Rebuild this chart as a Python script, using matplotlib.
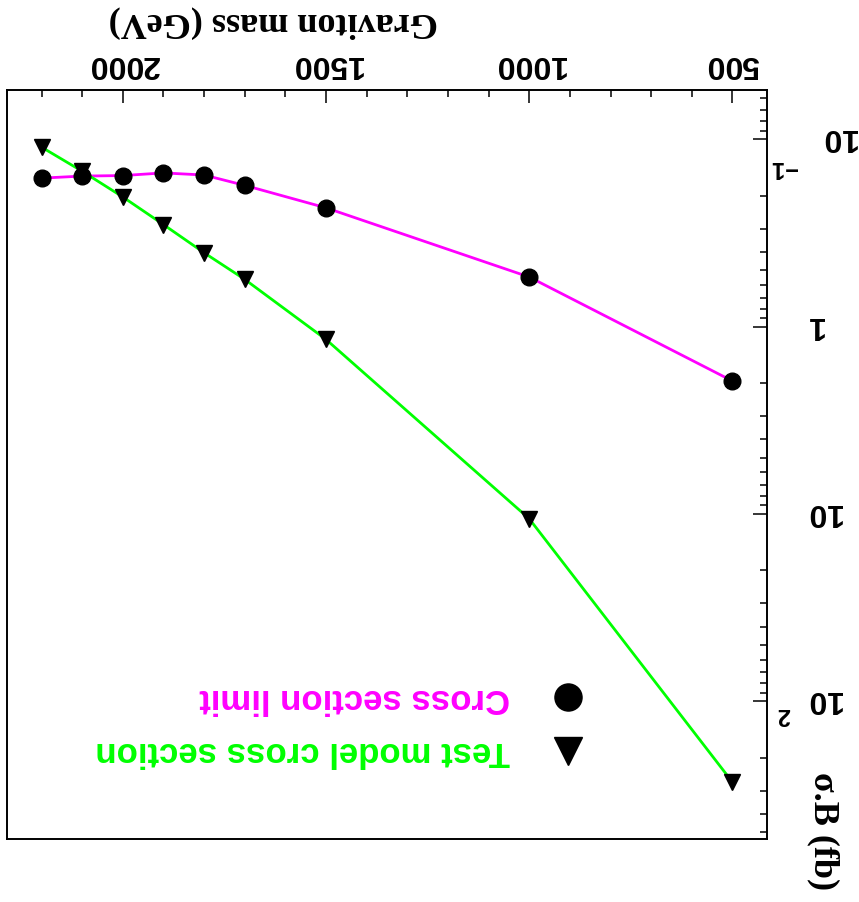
import numpy as np

import matplotlib
matplotlib.use("Agg")
import matplotlib.pyplot as plt
from matplotlib.ticker import FixedLocator, MultipleLocator, LogLocator, NullFormatter


# graviton search: limit vs test model, figure is stored upside down
MASS_GEV = [500, 1000, 1500, 1700, 1800, 1900, 2000, 2100, 2200]
XSEC_LIMIT_FB = [1.95, 0.543, 0.232, 0.176, 0.155, 0.151, 0.156, 0.157, 0.161]
XSEC_MODEL_FB = [270.0, 10.6, 1.17, 0.559, 0.403, 0.285, 0.203, 0.148, 0.110]

X_TICKS = [500, 1000, 1500, 2000]
X_TICK_LABELS = ["500", "1000", "1500", "2000"]
Y_TICKS = [0.1, 1, 10, 100]
Y_TICK_BASES = ["10", "1", "10", "10"]
Y_TICK_EXPONENTS = ["\u22121", "", "", "2"]

LEGEND_LABELS = ["Cross section limit", "Test model cross section"]

SANS = ["Liberation Sans", "DejaVu Sans"]
SERIF = ["Liberation Serif", "DejaVu Serif"]
MAGENTA = "#ff00ff"
GREEN = "#00ff00"
PX = 72.0 / 100.0  # points per pixel at dpi 100


fig = plt.figure(figsize=(8.59, 9.03), dpi=100)
ax = fig.add_axes([7 / 859, 63 / 903, 760 / 859, 749 / 903])

# lines first, markers on top
ax.plot(MASS_GEV, XSEC_LIMIT_FB, color=MAGENTA, lw=2, zorder=2)
ax.plot(MASS_GEV, XSEC_MODEL_FB, color=GREEN, lw=2, zorder=2)
ax.plot(MASS_GEV, XSEC_LIMIT_FB, ls="none", marker="o", ms=12, color="black", zorder=3)
ax.plot(MASS_GEV, XSEC_MODEL_FB, ls="none", marker="v", ms=12, color="black", zorder=3)

# rotated by 180 degrees: both axes reversed
ax.set_yscale("log")
ax.set_xlim(2285, 415)
ax.set_ylim(543, 0.0545)

for spine in ax.spines.values():
    spine.set_linewidth(1.4)

ax.xaxis.tick_top()
ax.yaxis.tick_right()

ax.set_xticks(X_TICKS, X_TICK_LABELS)
ax.xaxis.set_minor_locator(MultipleLocator(100))
ax.tick_params(axis="x", which="major", direction="in", length=9.5, width=1.1,
               pad=9, labelrotation=180, labelsize=23)
ax.tick_params(axis="x", which="minor", direction="in", length=5, width=1.1)
for lbl in ax.get_xticklabels():
    lbl.set_fontfamily(SANS)
    lbl.set_fontweight("bold")

ax.yaxis.set_major_locator(FixedLocator(Y_TICKS))
ax.yaxis.set_minor_locator(LogLocator(base=10, subs=np.arange(2, 10), numticks=20))
ax.yaxis.set_major_formatter(NullFormatter())
ax.yaxis.set_minor_formatter(NullFormatter())
ax.tick_params(axis="y", which="major", direction="in", length=10, width=1.1)
ax.tick_params(axis="y", which="minor", direction="in", length=5, width=1.1)

# ROOT style 10^n labels, drawn as base + exponent
for val, base, exp in zip(Y_TICKS, Y_TICK_BASES, Y_TICK_EXPONENTS):
    shift = 15 if len(exp) > 1 else 0
    ax.annotate(base, xy=(1, val), xycoords=("axes fraction", "data"),
                xytext=((38 + shift) * PX, 3 * PX), textcoords="offset points",
                rotation=180, ha="left", va="center", fontsize=23,
                fontweight="bold", family=SANS, annotation_clip=False)
    if exp:
        ax.annotate(exp, xy=(1, val), xycoords=("axes fraction", "data"),
                    xytext=((23 + shift // 2) * PX, -(1 + shift) * PX),
                    textcoords="offset points", rotation=180, ha="right", va="top",
                    fontsize=17, fontweight="bold", family=SANS,
                    annotation_clip=False)

ax.text(0.35, 1.092, "Graviton mass (GeV)", transform=ax.transAxes, rotation=180,
        ha="center", va="center", fontsize=26, fontweight="bold", family=SERIF)
ax.text(1.0737, 0.012, "\u03c3.B (fb)", transform=ax.transAxes, rotation=270,
        ha="center", va="center", fontsize=26, fontweight="bold", family=SERIF,
        clip_on=False)

# legend (markers to the right of the upside-down text)
legend_y = [0.1895, 0.1175]
legend_markers = ["o", "v"]
legend_colors = [MAGENTA, GREEN]
for y, mk, label, col in zip(legend_y, legend_markers, LEGEND_LABELS, legend_colors):
    ax.plot([0.738], [y], transform=ax.transAxes, ls="none", marker=mk, ms=19.5,
            color="black", clip_on=False)
    ax.text(0.6618, y, label, transform=ax.transAxes, rotation=180, ha="right",
            va="center", fontsize=25, fontweight="bold", family=SANS, color=col)

fig.savefig("out.png", dpi=100)
